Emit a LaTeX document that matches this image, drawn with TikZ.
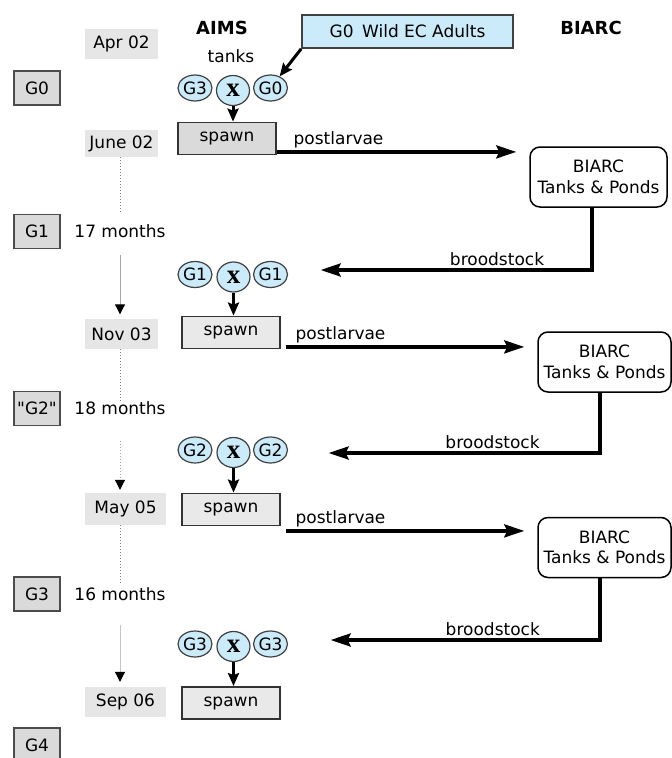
\documentclass[tikz,border=0pt]{standalone}
\usepackage{fontspec}
\setmainfont{DejaVu Sans}
\newfontfamily\crossfont{Liberation Serif}
\usepackage{tikz}
\usetikzlibrary{arrows,arrows.meta,positioning,calc,shapes.geometric}
\definecolor{tankblue}{HTML}{CCEBFA}
\definecolor{boxgray}{HTML}{DADADA}
\definecolor{dategray}{HTML}{E6E6E6}
\tikzset{gen/.style={draw=black!70,fill=boxgray,line width=1.8pt,minimum width=46pt,minimum height=34pt,inner sep=0pt}}
\tikzset{date/.style={fill=dategray,minimum width=73pt,minimum height=30pt,inner sep=0pt}}
\tikzset{spawnbox/.style={draw=black!80,fill=boxgray!60,line width=1.8pt,minimum width=98pt,minimum height=32pt,inner sep=0pt}}
\tikzset{parent/.style={ellipse,draw=black!75,fill=tankblue,line width=1.2pt,minimum width=34pt,minimum height=26pt,inner sep=0pt}}
\tikzset{cross/.style={parent,minimum width=33pt,minimum height=30pt,font=\crossfont\bfseries\fontsize{27}{27}\selectfont}}
\tikzset{pond/.style={draw,rounded corners=10pt,line width=1.5pt,align=center,minimum width=133pt,minimum height=60pt,inner sep=0pt}}
\tikzset{hdr/.style={font=\bfseries\fontsize{18}{20}\selectfont}}
\tikzset{flow/.style={line width=3.5pt,-{Stealth[length=20pt,width=13pt,inset=3pt]}}}
\tikzset{feed/.style={line width=3pt,-{Stealth[length=13pt,width=11pt,inset=2pt]}}}
\tikzset{tline/.style={gray!70,line width=1pt,-{Triangle[length=10pt,width=10pt,color=black]}}}
\tikzset{lbl/.style={inner sep=0pt,yshift=2.5pt}}

\begin{document}
\begin{tikzpicture}[x=1pt,y=-1pt,font=\fontsize{17}{20.5}\selectfont]
\useasboundingbox (0,0) rectangle (672,758);
% headings
\node[hdr] (aims) at (222,28) {AIMS};
\node[hdr] (biarc) at (591,28) {BIARC};
\node (tanks) at (231,56) {tanks};
\node[draw=black!75,fill=tankblue,line width=1.8pt,minimum width=211pt,minimum height=33pt] 
  (wild) at (407.5,31.5) {G0\enspace Wild EC Adults};

% generations and dates
\node[date] (apr02) at (121.5,44) {Apr 02};
\node[gen] (g0) at (37,88) {G0};
\node[date,minimum height=27pt] (jun02) at (121.5,143.5) {June 02};
\node[gen] (g1) at (37,231.5) {G1};
\node (m17) at (120,231.5) {17 months};
\node[date] (nov03) at (121.5,334) {Nov 03};
\node[gen] (g2) at (37,408.5) {\addfontfeatures{Ligatures=TeXOff}"G2"};
\node (m18) at (120,408.5) {18 months};
\node[date,minimum width=81pt,minimum height=32pt] (may05) at (125.5,509) {May 05};
\node[gen] (g3) at (37,594) {G3};
\node (m16) at (120,594) {16 months};
\node[date,minimum width=81pt] (sep06) at (125.5,702) {Sep 06};
\node[gen] (g4) at (37,745) {G4};

\coordinate (t1) at (120,213);
\coordinate (t2) at (120,403);
\coordinate (t3) at (120,583);
\draw[gray,dotted,line width=1pt] (jun02.south -| t1) -- (t1);
\draw[tline,shorten >=4.5pt] ([yshift=-13pt]m17.south) -- (m17.south |- nov03.north);
\draw[gray,dotted,line width=1pt] (nov03.south -| t2) -- (t2);
\draw[tline,dotted,shorten >=3pt] ([yshift=-22pt]m18.south) -- (m18.south |- may05.north);
\draw[gray,dotted,line width=1pt] (may05.south -| t3) -- (t3);
\draw[tline,gray!45,shorten >=5pt] ([yshift=-21pt]m16.south) -- (m16.south |- sep06.north);

% AIMS tanks
\node[parent] (p1a) at (195,88) {G3};
\node[cross] (x1) at (233,90.5) {x};
\node[parent] (p1b) at (270.5,88) {G0};
\node[spawnbox,fill=boxgray] (sp1) at (227,138.5) {spawn};

\node[parent] (p2a) at (195,274.5) {G1};
\node[cross] (x2) at (233.5,277) {x};
\node[parent] (p2b) at (270.5,274.5) {G1};
\node[spawnbox] (sp2) at (231,332.5) {spawn};

\node[parent] (p3a) at (195,450) {G2};
\node[cross] (x3) at (233.5,452.5) {x};
\node[parent] (p3b) at (270.5,450) {G2};
\node[spawnbox] (sp3) at (231,509.5) {spawn};

\node[parent] (p4a) at (195,644) {G3};
\node[cross] (x4) at (233.5,646.5) {x};
\node[parent] (p4b) at (270.5,644) {G3};
\node[spawnbox] (sp4) at (231,703) {spawn};

\draw[feed] (wild.south west) -- (p1b);
\draw[feed] (x1) -- (x1 |- sp1.north);
\draw[feed] (x2) -- (x2 |- sp2.north);
\draw[feed] (x3) -- (x3 |- sp3.north);
\draw[feed] (x4) -- (x4 |- sp4.north);

% BIARC
\node[pond,minimum width=137pt] (pond1) at (598.5,177) {BIARC\\Tanks \& Ponds};
\node[pond] (pond2) at (604.5,362) {BIARC\\Tanks \& Ponds};
\node[pond] (pond3) at (604.5,547.5) {BIARC\\Tanks \& Ponds};

\draw[flow] ($(sp1.south east)+(0,-3.5)$) -- node[lbl,pos=0,anchor=south west,xshift=15pt] {postlarvae}
  ($(sp1.south east -| pond1.west)+(-13,-3.5)$);
\draw[flow,shorten <=5pt] ($(sp2.south east)+(0,-2.5)$) -- node[lbl,pos=0,anchor=south west,xshift=13pt] {postlarvae}
  ($(sp2.south east -| pond2.west)+(-13,-2.5)$);
\draw[flow,shorten <=5pt] ($(sp3.south east)+(0,4.5)$) -- node[lbl,pos=0,anchor=south west,xshift=13pt] {postlarvae}
  ($(sp3.south east -| pond3.west)+(-13,4.5)$);

\draw[flow] ([xshift=-6.5pt]pond1.south) |- node[lbl,pos=0.675,above] {broodstock} ($(p2b.east)+(32.5,-4.5)$);
\draw[flow] ([xshift=-4.5pt]pond2.south) |- node[lbl,pos=0.698,above] {broodstock} ($(p3b.east)+(40.5,3)$);
\draw[flow] ([xshift=-4.5pt]pond3.south) |- node[lbl,pos=0.699,above] {broodstock} ($(p4b.east)+(42.5,-4)$);
\end{tikzpicture}
\end{document}
